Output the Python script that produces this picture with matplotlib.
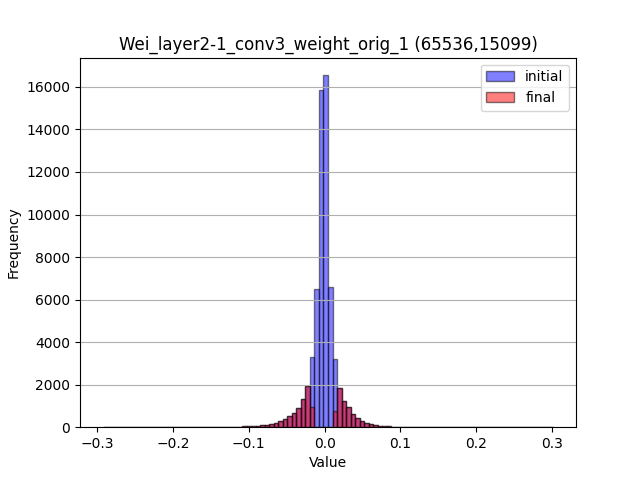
import numpy as np
import matplotlib
matplotlib.use('Agg')
import matplotlib.pyplot as plt

# histogram range and bin count
value_min = -0.293
value_max = 0.302
num_bins = 100

# per-bin counts of the pruned ("final") weights, bin 0 .. bin 99
final_counts = (
    [1] + [0] * 21
    + [1, 1, 2, 2, 3, 5, 8, 15, 25, 35, 45, 60, 75, 95, 120, 160, 220, 290,
       380, 540, 670, 890, 1310, 1950, 940]
    + [0, 0, 0, 0]
    + [740, 1830, 1230, 940, 640, 450, 300, 200, 140, 100, 75, 50, 35, 15,
       10, 20, 4, 2, 1]
    + [0] * 29 + [1]
)

# the initial weights share the tails, plus the small weights near zero
center_counts = {46: 3300, 47: 6500, 48: 15850, 49: 16550, 50: 6600, 51: 3230}
initial_counts = list(final_counts)
for k, v in center_counts.items():
    initial_counts[k] = v

title = 'Wei_layer2-1_conv3_weight_orig_1 (65536,15099)'

edges = np.linspace(value_min, value_max, num_bins + 1)
centers = 0.5 * (edges[:-1] + edges[1:])

fig = plt.figure(figsize=(6.4, 4.8), dpi=100)
ax = fig.add_subplot(111)

ax.hist(centers, bins=edges, weights=initial_counts, color='blue', alpha=0.5,
        edgecolor='black', label='initial')
ax.hist(centers, bins=edges, weights=final_counts, color='red', alpha=0.5,
        edgecolor='black', label='final')

ax.yaxis.grid(True)
ax.set_title(title)
ax.set_xlabel('Value')
ax.set_ylabel('Frequency')
ax.legend(loc='upper right')

fig.savefig('out.png')
plt.close(fig)
